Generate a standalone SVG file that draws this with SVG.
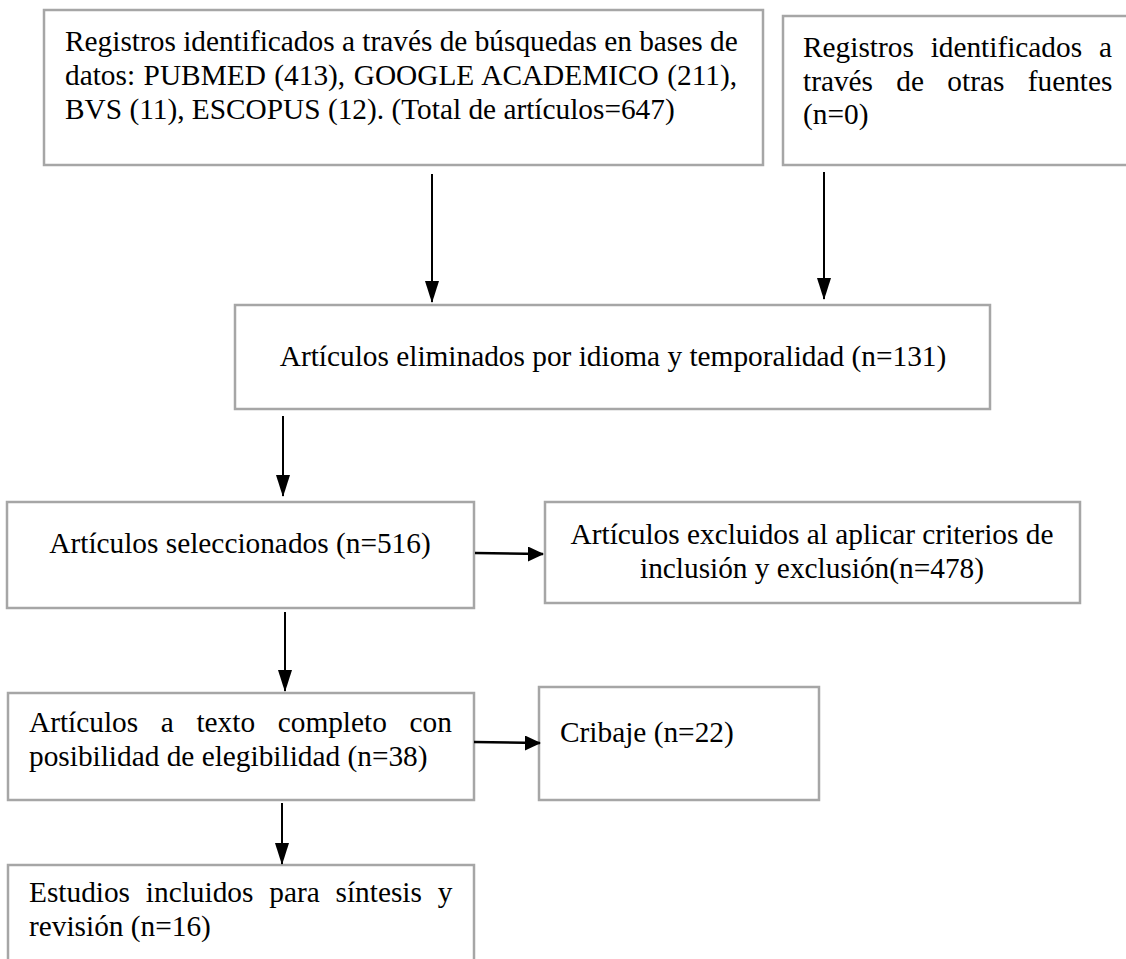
<svg xmlns="http://www.w3.org/2000/svg" width="1126" height="959" viewBox="0 0 1126 959">
<style>
.box{fill:#ffffff;stroke:#a6a6a6;stroke-width:2.5}
.t{font-family:"Liberation Serif","Times New Roman",serif;font-size:29.33px;fill:#000000}
.c{text-anchor:middle}
.arr{stroke:#000000;stroke-width:2;fill:none;marker-end:url(#ah)}
.arrh{stroke:#000000;stroke-width:2.5;fill:none;marker-end:url(#ahh)}
</style>
<defs>
<marker id="ah" markerUnits="userSpaceOnUse" markerWidth="14" markerHeight="22" refX="7" refY="21" orient="0" viewBox="0 0 14 22">
<path d="M0,0 L14,0 L7,22 Z" fill="#000000"/>
</marker>
<marker id="ahh" markerUnits="userSpaceOnUse" markerWidth="16" markerHeight="15" refX="15" refY="7.5" orient="0" viewBox="0 0 16 15">
<path d="M0,0 L16,7.5 L0,15 Z" fill="#000000"/>
</marker>
</defs>
<rect width="1126" height="959" fill="#ffffff"/>
<g id="n1">
<rect class="box" x="44" y="10" width="719" height="155"/>
<text class="t" x="65" y="51">Registros identificados a través de búsquedas en bases de</text>
<text class="t" x="65" y="85" word-spacing="1.2">datos: PUBMED (413), GOOGLE ACADEMICO (211),</text>
<text class="t" x="65" y="119">BVS (11), ESCOPUS (12). (Total de artículos=647)</text>
</g>
<g id="n2">
<rect class="box" x="783" y="16" width="350" height="149"/>
<text class="t" x="803" y="57" word-spacing="9.5">Registros identificados a</text>
<text class="t" x="803" y="91" word-spacing="16">través de otras fuentes</text>
<text class="t" x="803" y="124">(n=0)</text>
</g>
<g id="n3">
<rect class="box" x="235" y="305" width="755" height="104"/>
<text class="t c" x="613" y="366">Artículos eliminados por idioma y temporalidad (n=131)</text>
</g>
<g id="n4">
<rect class="box" x="7" y="502" width="467" height="106"/>
<text class="t c" x="240" y="553">Artículos seleccionados (n=516)</text>
</g>
<g id="n5">
<rect class="box" x="545" y="502" width="535" height="101"/>
<text class="t c" x="812" y="544">Artículos excluidos al aplicar criterios de</text>
<text class="t c" x="812" y="578">inclusión y exclusión(n=478)</text>
</g>
<g id="n6">
<rect class="box" x="8" y="693" width="466" height="107"/>
<text class="t" x="29" y="732" word-spacing="15.3">Artículos a texto completo con</text>
<text class="t" x="29" y="766">posibilidad de elegibilidad (n=38)</text>
</g>
<g id="n7">
<rect class="box" x="539" y="687" width="280" height="113"/>
<text class="t" x="560" y="742">Cribaje (n=22)</text>
</g>
<g id="n8">
<rect class="box" x="8" y="865" width="466" height="110"/>
<text class="t" x="29" y="902" word-spacing="8.5">Estudios incluidos para síntesis y</text>
<text class="t" x="29" y="936">revisión (n=16)</text>
</g>
<g id="connectors">
<line class="arr" x1="432" y1="174" x2="432" y2="302"/>
<line class="arr" x1="824" y1="172" x2="824" y2="299"/>
<line class="arr" x1="283" y1="416" x2="283" y2="496"/>
<line class="arrh" x1="475" y1="553" x2="543" y2="554"/>
<line class="arr" x1="285" y1="612" x2="285" y2="691"/>
<line class="arrh" x1="474" y1="742" x2="540" y2="743"/>
<line class="arr" x1="282" y1="803" x2="282" y2="864"/>
</g>
</svg>
